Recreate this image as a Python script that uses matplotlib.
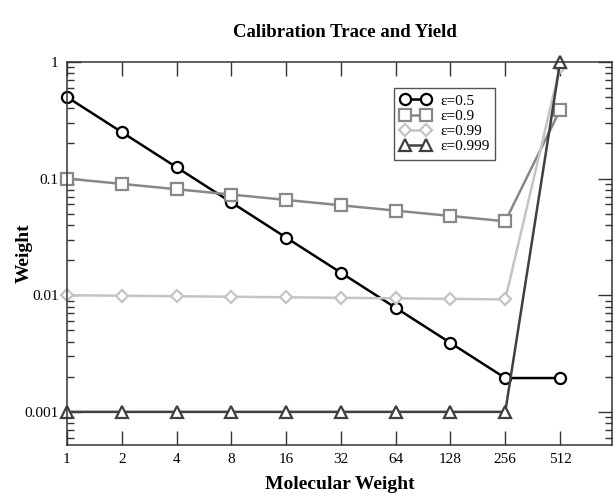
import matplotlib
matplotlib.use("Agg")
import matplotlib.pyplot as plt
from matplotlib.ticker import FixedLocator, FuncFormatter, LogLocator, NullLocator

plt.rcParams['font.family'] = ['Liberation Serif', 'DejaVu Serif']

# data
mol_weight = [1, 2, 4, 8, 16, 32, 64, 128, 256, 512]
w_05 = [0.5, 0.25, 0.125, 0.0625, 0.0312, 0.0156, 0.0078, 0.0039, 0.00195, 0.00195]
w_09 = [0.1, 0.09, 0.081, 0.0729, 0.0656, 0.059, 0.0531, 0.0478, 0.043, 0.387]
w_099 = [0.01, 0.0099, 0.0098, 0.0097, 0.0096, 0.0095, 0.0094, 0.0093, 0.0092, 0.91]
w_0999 = [0.001, 0.001, 0.001, 0.001, 0.001, 0.001, 0.001, 0.001, 0.001, 0.99]
labels = ["ε=0.5", "ε=0.9", "ε=0.99", "ε=0.999"]

fig = plt.figure(figsize=(6.14, 4.95), dpi=100)
ax = fig.add_axes([0.109, 0.101, 0.888, 0.774])

styles = [
    (w_05, "black", "o"),
    (w_09, "#888888", "s"),
    (w_099, "#c4c4c4", "D"),
    (w_0999, "#404040", "^"),
]
for (vals, col, mk), lab in zip(styles, labels):
    ms = 6.5 if mk == "D" else 8
    ax.plot(mol_weight, vals, color=col, marker=mk, markersize=ms,
            markerfacecolor="white", markeredgecolor=col, markeredgewidth=1.6,
            linewidth=1.8, label=lab, clip_on=False)

ax.set_xscale("log", base=2)
ax.set_yscale("log")
ax.set_xlim(1, 990)
ax.set_ylim(0.00052, 1)

ax.xaxis.set_major_locator(FixedLocator(mol_weight))
ax.xaxis.set_minor_locator(NullLocator())
ax.xaxis.set_major_formatter(FuncFormatter(lambda v, p: "%d" % v))
ax.yaxis.set_major_locator(FixedLocator([0.001, 0.01, 0.1, 1]))
ax.yaxis.set_minor_locator(LogLocator(base=10, subs=range(2, 10)))
ax.yaxis.set_major_formatter(FuncFormatter(lambda v, p: "%g" % v))

ax.tick_params(which="both", direction="in", top=True, right=True,
               labelsize=11, width=1, color="#333333")
ax.tick_params(which="major", length=10, pad=6)
ax.tick_params(which="minor", length=5)
for s in ax.spines.values():
    s.set_linewidth(1.1)
    s.set_color("#333333")

ax.set_xlabel("Molecular Weight", fontsize=14, fontweight="bold")
ax.set_ylabel("Weight", fontsize=14, fontweight="bold")
ax.xaxis.set_label_coords(0.5, -0.082)
ax.yaxis.set_label_coords(-0.062, 0.5)
fig.text(0.562, 0.935, "Calibration Trace and Yield", ha="center", va="center",
         fontsize=13.5, fontweight="bold")

leg = ax.legend(loc="upper left", bbox_to_anchor=(0.6, 0.932), fontsize=11,
                numpoints=2, handlelength=2.0, handletextpad=0.6,
                borderpad=0.4, labelspacing=0.1, borderaxespad=0,
                fancybox=False, framealpha=1)
leg.get_frame().set_edgecolor("#555555")
leg.get_frame().set_linewidth(1)

fig.savefig("out.png", dpi=100)
